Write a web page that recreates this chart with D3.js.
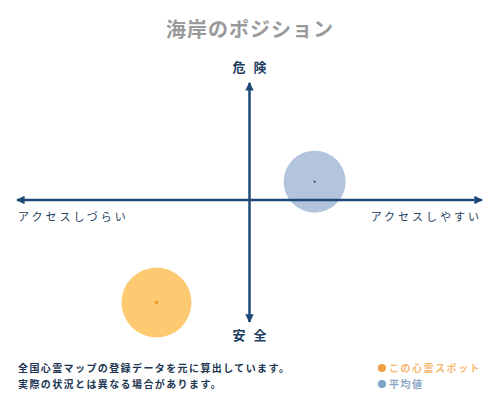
<!DOCTYPE html>
<html>
<head>
<meta charset="utf-8">
<script src="https://cdn.jsdelivr.net/npm/d3@7"></script>
<style>
  body { margin: 0; background: #fff; }
  text { font-family: "Noto Sans CJK JP", "Noto Sans", sans-serif; }
</style>
</head>
<body>
<div id="chart"></div>
<script>
// data
const seriesNames = ['この心霊スポット', '平均値'];
const accessValues = [-40, 28];   // x: アクセスしづらい (-) .. アクセスしやすい (+)
const dangerValues = [-84, 15];   // y: 安全 (-) .. 危険 (+)
const sizeValues = [35, 31];
const fillColors = ['#fdca72', '#b2c5dc'];
const dotColors = ['#f0a030', '#333333'];
const legendColors = ['#f0a040', '#7fa3c4'];
const footnotes = ['全国心霊マップの登録データを元に算出しています。', '実際の状況とは異なる場合があります。'];

const width = 500,
  height = 400;

const svg = d3
  .select('#chart')
  .append('svg')
  .attr('width', width)
  .attr('height', height);

let x = d3.scaleLinear().domain([-100, 100]).range([17, 482]);
let y = d3.scaleLinear().domain([-100, 100]).range([322, 78]);

const axisColor = '#1d4a78';

// arrow marker
svg
  .append('defs')
  .append('marker')
  .attr('id', 'arrow')
  .attr('viewBox', '0 0 10 10')
  .attr('refX', 9)
  .attr('refY', 5)
  .attr('markerWidth', 3.4)
  .attr('markerHeight', 3.4)
  .attr('orient', 'auto-start-reverse')
  .append('path')
  .attr('d', 'M0,0 L10,5 L0,10 Z')
  .attr('fill', axisColor);

// title
svg
  .append('text')
  .attr('x', 250)
  .attr('y', 37)
  .attr('text-anchor', 'middle')
  .attr('font-size', 20)
  .attr('font-weight', 'bold')
  .attr('fill', '#9a9a9a')
  .attr('letter-spacing', 1)
  .text('海岸のポジション');

// circles
const g = svg.append('g');
g.selectAll('ellipse')
  .data(seriesNames)
  .enter()
  .append('circle')
  .attr('cx', (d, i) => x(accessValues[i]))
  .attr('cy', (d, i) => y(dangerValues[i]))
  .attr('r', (d, i) => sizeValues[i])
  .attr('fill', (d, i) => fillColors[i]);

g.selectAll('.dot')
  .data(seriesNames)
  .enter()
  .append('circle')
  .attr('class', 'dot')
  .attr('cx', (d, i) => x(accessValues[i]))
  .attr('cy', (d, i) => y(dangerValues[i]))
  .attr('r', (d, i) => (i === 0 ? 2 : 1))
  .attr('fill', (d, i) => dotColors[i]);

// axes
svg
  .append('line')
  .attr('x1', x(-100))
  .attr('x2', x(100))
  .attr('y1', y(0))
  .attr('y2', y(0))
  .attr('stroke', axisColor)
  .attr('stroke-width', 2.5)
  .attr('marker-start', 'url(#arrow)')
  .attr('marker-end', 'url(#arrow)');

svg
  .append('line')
  .attr('x1', x(0))
  .attr('x2', x(0))
  .attr('y1', y(-100))
  .attr('y2', y(96))
  .attr('stroke', axisColor)
  .attr('stroke-width', 2.5)
  .attr('marker-start', 'url(#arrow)')
  .attr('marker-end', 'url(#arrow)');

// axis labels
const labelColor = '#1d3d5e';
svg.append('text')
  .attr('x', x(0) + 4).attr('y', 72)
  .attr('text-anchor', 'middle')
  .attr('font-size', 13).attr('font-weight', 'bold')
  .attr('letter-spacing', 8)
  .attr('fill', labelColor)
  .text('危険');

svg.append('text')
  .attr('x', x(0) + 4).attr('y', 340)
  .attr('text-anchor', 'middle')
  .attr('font-size', 13).attr('font-weight', 'bold')
  .attr('letter-spacing', 8)
  .attr('fill', labelColor)
  .text('安全');

svg.append('text')
  .attr('x', 18).attr('y', 221)
  .attr('font-size', 11)
  .attr('letter-spacing', 3)
  .attr('fill', labelColor)
  .text('アクセスしづらい');

svg.append('text')
  .attr('x', 482).attr('y', 221)
  .attr('text-anchor', 'end')
  .attr('font-size', 11)
  .attr('letter-spacing', 3)
  .attr('fill', labelColor)
  .text('アクセスしやすい');

// footnotes
svg.selectAll('.note')
  .data(footnotes)
  .enter()
  .append('text')
  .attr('class', 'note')
  .attr('x', 18)
  .attr('y', (d, i) => 372 + i * 16)
  .attr('font-size', 10)
  .attr('font-weight', 'bold')
  .attr('letter-spacing', 1.4)
  .attr('fill', '#1d3550')
  .text((d) => d);

// legend
const legend = svg.selectAll('.legend')
  .data(seriesNames)
  .enter()
  .append('g')
  .attr('class', 'legend')
  .attr('transform', (d, i) => `translate(382,${368 + i * 16})`);

legend.append('circle')
  .attr('r', 4)
  .attr('fill', (d, i) => legendColors[i]);

legend.append('text')
  .attr('x', 7)
  .attr('y', 4)
  .attr('font-size', 10)
  .attr('font-weight', 'bold')
  .attr('letter-spacing', 1.5)
  .attr('fill', (d, i) => (i === 0 ? '#f4b870' : '#8aa6c2'))
  .text((d) => d);
</script>
</body>
</html>
